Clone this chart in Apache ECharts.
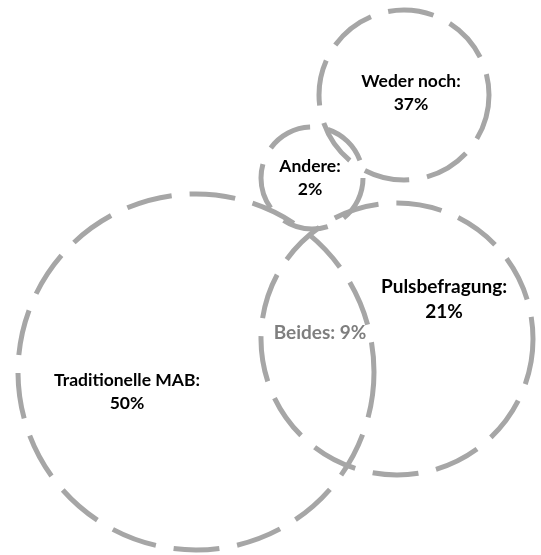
<!DOCTYPE html>
<html>
<head>
<meta charset="utf-8">
<script src="https://cdn.jsdelivr.net/npm/echarts@6/dist/echarts.min.js"></script>
<style>
html,body{margin:0;padding:0;background:#fff;}
#chart{width:541px;height:555px;}
</style>
</head>
<body>
<div id="chart"></div>
<script>
// Venn-style categories and their shares (%)
const categories = ['Traditionelle MAB', 'Pulsbefragung', 'Andere', 'Weder noch'];
const shares = [50, 21, 2, 37];
const overlapName = 'Beides';
const overlapShare = 9;

// circle layout in plot units (0..541 x 0..555)
const circleX = [196, 397, 312, 404];
const circleY = [372, 339, 178, 95];
const circleR = [178, 136, 51, 85];

// label anchor points in plot units
const labelX = [127, 444, 310, 411, 320];
const labelY = [392, 299, 178, 93, 333];
const labelSize = [17.5, 19, 17.5, 17.5, 19];

const circleData = categories.map((c, i) => [circleX[i], circleY[i], circleR[i], c]);
const labelData = categories.map((c, i) => [labelX[i], labelY[i], c + ':\n' + shares[i] + '%', 0, labelSize[i]])
  .concat([[labelX[4], labelY[4], overlapName + ': ' + overlapShare + '%', 1, labelSize[4]]]);

const chart = echarts.init(document.getElementById('chart'));
chart.setOption({
  animation: false,
  grid: {left: 0, right: 0, top: 0, bottom: 0},
  xAxis: {type: 'value', min: 0, max: 541, show: false},
  yAxis: {type: 'value', min: 0, max: 555, inverse: true, show: false},
  series: [
    {
      type: 'custom',
      data: circleData,
      renderItem: function (params, api) {
        const c = api.coord([api.value(0), api.value(1)]);
        const r = api.size([api.value(2), 0])[0];
        return {
          type: 'circle',
          shape: {cx: c[0], cy: c[1], r: r},
          style: {fill: 'none', stroke: '#a6a6a6', lineWidth: 5, lineDash: [46, 18]}
        };
      }
    },
    {
      type: 'custom',
      data: labelData,
      renderItem: function (params, api) {
        const c = api.coord([api.value(0), api.value(1)]);
        const gray = api.value(3) === 1;
        const size = api.value(4);
        return {
          type: 'text',
          x: c[0], y: c[1],
          style: {
            text: labelData[params.dataIndex][2],
            fill: gray ? '#7f7f7f' : '#000000',
            font: 'bold ' + size + 'px Lato, "Open Sans", sans-serif',
            align: 'center',
            verticalAlign: 'middle',
            lineHeight: size * 1.32
          }
        };
      }
    }
  ]
});
</script>
</body>
</html>
